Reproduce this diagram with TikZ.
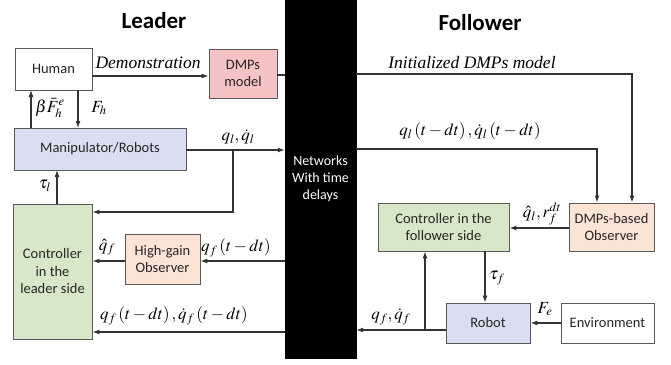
\documentclass[tikz,border=0pt]{standalone}
\usepackage{mathptmx}
\usepackage[no-math]{fontspec}
\setmainfont{Carlito}
\newfontfamily\tms{Liberation Serif}
\usetikzlibrary{arrows.meta}
\definecolor{pinkf}{RGB}{245,195,195}
\definecolor{bluef}{RGB}{218,222,242}
\definecolor{greenf}{RGB}{214,232,200}
\definecolor{peachf}{RGB}{251,228,213}
\begin{document}
\begin{tikzpicture}[x=1pt,y=-1pt,
  box/.style={draw=black!65, line width=0.9pt, inner sep=1pt, align=center,
    font=\fontsize{14.5}{17.5}\selectfont, text=black!85},
  arr/.style={line width=1.1pt, draw=black!80, -{Latex[length=7pt,width=5pt]}},
  ln/.style={line width=1.1pt, draw=black!80},
  lab/.style={font=\fontsize{17}{19}\selectfont, inner sep=0pt},
  itl/.style={font=\tms\itshape\fontsize{17.5}{20}\selectfont, inner sep=0pt},
  ttl/.style={font=\bfseries\fontsize{23}{26}\selectfont, inner sep=0pt}]
\useasboundingbox (0,0) rectangle (671,364);
% titles
\node[ttl] (tl) at (154,21) {Leader};
\node[ttl] (tf) at (480,23) {Follower};
% network
\node[fill=black, draw=black, minimum width=71pt, minimum height=358pt, inner sep=0pt,
  text=white, align=center, font=\fontsize{14}{17}\selectfont] (net) at (320.5,179) {Networks\\With time\\delays};
% leader boxes
\node[box, fill=white, minimum width=77pt, minimum height=42pt] (hum) at (53.5,69) {Human};
\node[box, fill=pinkf, minimum width=68pt, minimum height=49pt] (dmp) at (243,73.5) {DMPs\\model};
\node[box, fill=bluef, minimum width=172pt, minimum height=42pt] (man) at (100,149) {Manipulator/Robots};
\node[box, fill=greenf, minimum width=79pt, minimum height=135pt] (cl) at (52.5,271.5) {Controller\\in the\\leader side};
\node[box, fill=peachf, minimum width=75pt, minimum height=50pt] (hg) at (162.5,259) {High-gain\\Observer};
% follower boxes
\node[box, fill=greenf, minimum width=131pt, minimum height=48pt] (cf) at (443.5,227) {Controller in the\\follower side};
\node[box, fill=peachf, minimum width=85pt, minimum height=48pt] (dob) at (611.5,227) {DMPs-based\\Observer};
\node[box, fill=bluef, minimum width=84pt, minimum height=40pt] (rob) at (488,323) {Robot};
\node[box, fill=white, minimum width=93pt, minimum height=40pt] (env) at (607.5,323) {Environment};
% coordinates
\coordinate (c1) at (233,150);
\coordinate (c2) at (233,212);
\coordinate (c3) at (632,74);
\coordinate (c4) at (597,149);
\coordinate (c5) at (425,330);
% leader connectors
\draw[arr] (hum.east |- 0,76) -- (dmp.west |- 0,76);
\draw[ln] (dmp.east |- 0,75) -- (net.west |- 0,75);
\draw[arr] (78,90) -- (78,128);
\draw[arr] (31,128) -- (31,90);
\draw[arr] (man.east |- c1) -- (net.west |- c1);
\draw[arr] (c1) -- (c2) -- (cl.east |- c2);
\draw[arr] (57,204) -- (57,170);
\draw[arr] (net.west |- 0,261) -- (hg.east |- 0,261);
\draw[arr] (hg.west |- 0,261) -- (cl.east |- 0,261);
\draw[arr] (net.west |- 0,332) -- (cl.east |- 0,332);
% follower connectors
\draw[arr] (net.east |- c3) -- (c3) -- (dob.north -| c3);
\draw[arr] (net.east |- c4) -- (c4) -- (dob.north -| c4);
\draw[arr] (dob.west |- 0,228) -- (cf.east |- 0,228);
\draw[arr] (cf.south -| 485,0) -- (rob.north -| 485,0);
\draw[arr] (env.west) -- (rob.east);
\draw[arr] (rob.west |- c5) -- (net.east |- c5);
\draw[arr] (c5) -- (cf.south -| c5);
% labels
\node[itl] (l1) at (148,63) {Demonstration};
\node[itl] (l2) at (472,63) {Initialized DMPs model};
\node[lab] (l3) at (50,108) {$\beta\bar{F}_h^{e}$};
\node[lab] (l4) at (99,108) {$F_h$};
\node[lab] (l5) at (238,137) {$q_l,\dot{q}_l$};
\node[lab] (l6) at (45,186) {$\tau_l$};
\node[lab] (l7) at (107,247) {$\hat{q}_f$};
\node[lab] (l8) at (236,248) {$q_f\left(t-dt\right)$};
\node[lab] (l9) at (174,316) {$q_f\left(t-dt\right),\dot{q}_f\left(t-dt\right)$};
\node[lab] (l10) at (470,131) {$q_l\left(t-dt\right),\dot{q}_l\left(t-dt\right)$};
\node[lab] (l11) at (542,214) {$\hat{q}_l,r_f^{dt}$};
\node[lab] (l12) at (497,278) {$\tau_f$};
\node[lab] (l13) at (545,309) {$F_e$};
\node[lab] (l14) at (391,317) {$q_f,\dot{q}_f$};
\end{tikzpicture}
\end{document}
